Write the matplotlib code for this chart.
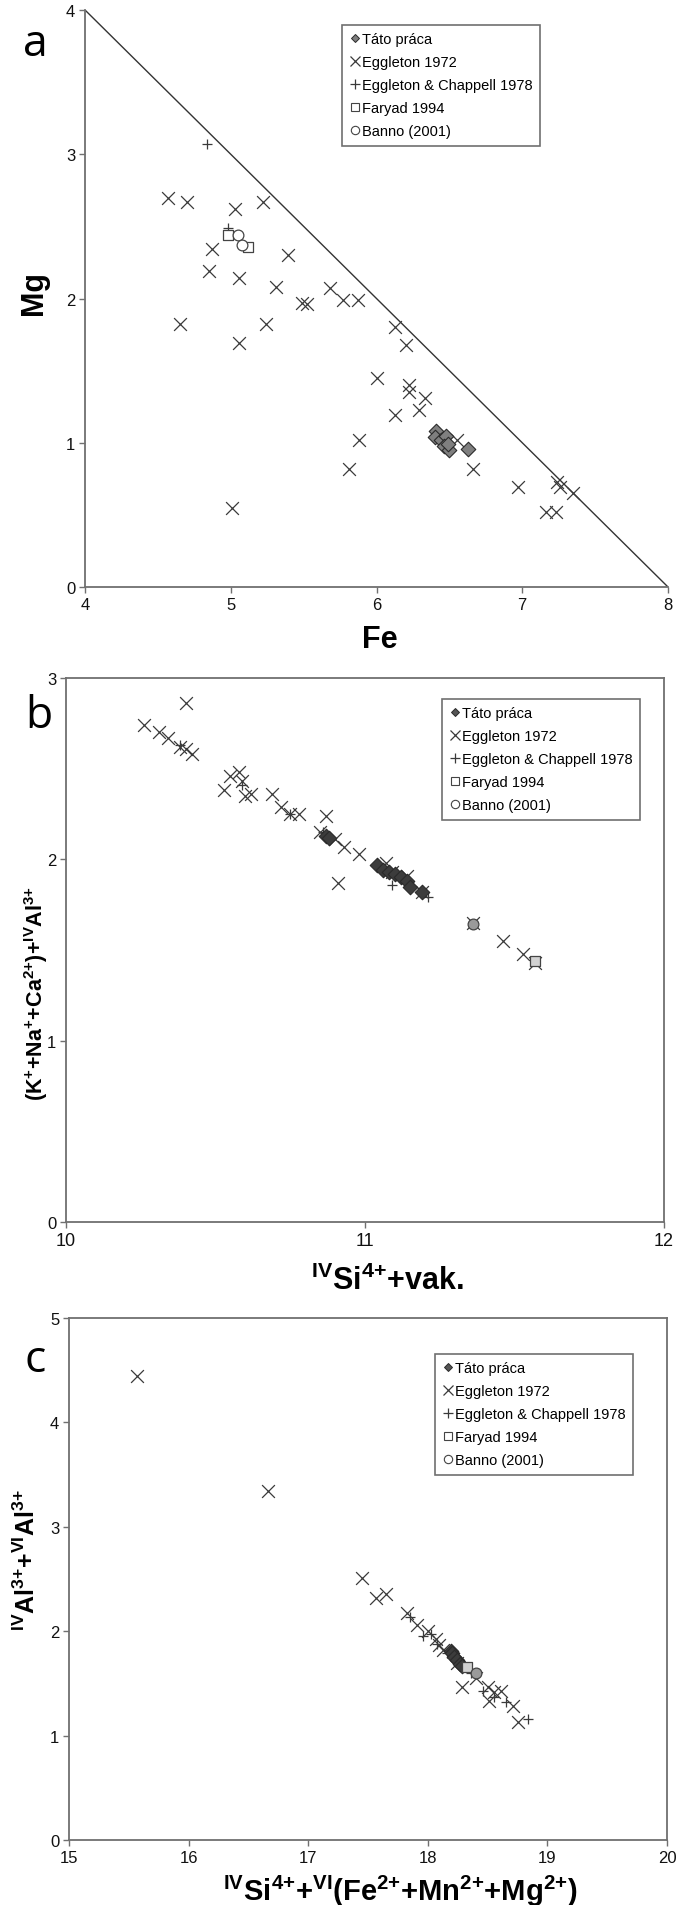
import matplotlib.pyplot as plt
from matplotlib.lines import Line2D

plt.rcParams['font.family'] = ['Liberation Sans', 'DejaVu Sans']
plt.rcParams['mathtext.fontset'] = 'custom'
for k in ('rm', 'it', 'bf', 'sf'):
    plt.rcParams['mathtext.' + k] = 'Liberation Sans:bold'

W, H = 686, 1906

series_names = ['Táto práca', 'Eggleton 1972', 'Eggleton & Chappell 1978',
                'Faryad 1994', 'Banno (2001)']

# ---- panel a : Fe vs Mg
a_egg72_x = [4.57, 4.70, 5.03, 5.22, 4.87, 4.85, 5.06, 5.39, 5.31, 5.68, 5.49, 5.52,
             5.77, 5.87, 4.65, 5.24, 5.06, 6.13, 6.20, 6.00, 6.22, 6.22, 6.33, 6.29,
             6.13, 5.88, 5.81, 6.66, 5.01, 6.97, 7.24, 7.26, 7.35, 7.16, 7.23, 6.55]
a_egg72_y = [2.70, 2.67, 2.62, 2.67, 2.34, 2.19, 2.14, 2.30, 2.08, 2.07, 1.97, 1.96,
             1.99, 1.99, 1.82, 1.82, 1.69, 1.80, 1.68, 1.45, 1.40, 1.35, 1.31, 1.23,
             1.19, 1.02, 0.82, 0.82, 0.55, 0.69, 0.73, 0.69, 0.65, 0.52, 0.52, 1.02]
a_ec78_x = [4.84, 4.98]
a_ec78_y = [3.07, 2.49]
a_faryad_x = [4.98, 5.12]
a_faryad_y = [2.44, 2.36]
a_banno_x = [5.05, 5.08]
a_banno_y = [2.44, 2.37]
a_tato_x = [6.41, 6.40, 6.44, 6.48, 6.46, 6.50, 6.49, 6.63]
a_tato_y = [1.08, 1.04, 1.02, 1.05, 0.98, 0.95, 0.99, 0.96]
a_limit_x = [4, 8]
a_limit_y = [4, 0]

# ---- panel b : IVSi + vac. vs (K+Na+Ca)+IVAl
b_egg72_x = [10.26, 10.40, 10.31, 10.34, 10.38, 10.40, 10.42, 10.53, 10.55, 10.58,
             10.59, 10.60, 10.62, 10.69, 10.72, 10.75, 10.78, 10.87, 10.85, 10.90,
             10.93, 10.98, 10.91, 11.46, 11.53, 11.57, 11.07, 11.09, 11.14, 11.19, 11.36]
b_egg72_y = [2.74, 2.86, 2.70, 2.67, 2.62, 2.61, 2.58, 2.38, 2.46, 2.48,
             2.43, 2.35, 2.36, 2.36, 2.29, 2.25, 2.25, 2.24, 2.15, 2.11,
             2.07, 2.03, 1.87, 1.55, 1.48, 1.43, 1.98, 1.93, 1.91, 1.82, 1.65]
b_ec78_x = [10.86, 11.21, 10.75, 10.59, 11.09, 11.13, 10.38]
b_ec78_y = [2.15, 1.79, 2.25, 2.41, 1.86, 1.88, 2.63]
b_faryad_x = [11.57]
b_faryad_y = [1.44]
b_banno_x = [11.36]
b_banno_y = [1.645]
b_tato_x = [10.87, 10.88, 11.04, 11.06, 11.08, 11.10, 11.12, 11.14, 11.15, 11.19]
b_tato_y = [2.13, 2.12, 1.97, 1.94, 1.93, 1.92, 1.90, 1.88, 1.85, 1.82]

# ---- panel c : IVSi + VI(Fe+Mn+Mg) vs IVAl + VIAl
c_egg72_x = [15.57, 16.66, 17.45, 17.57, 17.65, 17.83, 17.91, 18.00, 18.07, 18.09,
             18.29, 18.51, 18.50, 18.61, 18.71, 18.75, 18.24, 18.13, 18.40, 18.55]
c_egg72_y = [4.44, 3.34, 2.51, 2.32, 2.36, 2.17, 2.06, 2.00, 1.93, 1.87,
             1.47, 1.33, 1.47, 1.43, 1.28, 1.13, 1.70, 1.82, 1.55, 1.42]
c_ec78_x = [18.84, 17.85, 17.96, 18.03, 18.46, 18.55, 18.16, 18.08, 18.36, 18.65]
c_ec78_y = [1.16, 2.14, 1.95, 1.97, 1.43, 1.37, 1.79, 1.88, 1.60, 1.32]
c_faryad_x = [18.33]
c_faryad_y = [1.66]
c_banno_x = [18.40]
c_banno_y = [1.60]
c_tato_x = [18.19, 18.20, 18.22, 18.245, 18.27, 18.29]
c_tato_y = [1.81, 1.79, 1.75, 1.72, 1.69, 1.67]

GRAY = '#707070'
MK = '#3a3a3a'


def axes_px(left, top, right, bottom):
    return fig.add_axes([left / W, 1 - bottom / H, (right - left) / W, (bottom - top) / H])


def style(ax, box=True):
    for s in ax.spines.values():
        s.set_color(GRAY)
        s.set_linewidth(1.3)
    if not box:
        ax.spines['top'].set_visible(False)
        ax.spines['right'].set_visible(False)
    ax.tick_params(direction='out', length=4, width=1, color=GRAY,
                   labelsize=12, labelcolor='#111111', pad=3)


def draw(ax, egg72, ec78, faryad, banno, tato, tato_fc, sq_fc, ci_fc):
    ax.scatter(*egg72, marker='x', s=85, c=MK, linewidths=0.9, clip_on=False, zorder=3)
    ax.scatter(*ec78, marker='+', s=60, c=MK, linewidths=0.9, clip_on=False, zorder=3)
    ax.scatter(*tato, marker='D', s=55, c=tato_fc, edgecolors='#2a2a2a',
               linewidths=0.8, zorder=4)
    ax.scatter(*faryad, marker='s', s=60, c=sq_fc, edgecolors='#444444',
               linewidths=0.9, zorder=5)
    ax.scatter(*banno, marker='o', s=60, c=ci_fc, edgecolors='#444444',
               linewidths=0.9, zorder=5)


def legend(ax, right, top, tato_fc):
    handles = [
        Line2D([], [], ls='', marker='D', ms=4.5, mfc=tato_fc, mec='#2a2a2a', mew=0.7),
        Line2D([], [], ls='', marker='x', ms=7, mec=MK, mew=0.9),
        Line2D([], [], ls='', marker='+', ms=7, mec=MK, mew=0.9),
        Line2D([], [], ls='', marker='s', ms=6, mfc='white', mec='#444444', mew=0.8),
        Line2D([], [], ls='', marker='o', ms=6, mfc='white', mec='#444444', mew=0.8),
    ]
    leg = ax.legend(handles, series_names, loc='upper right',
                    bbox_to_anchor=(right / W, 1 - top / H), bbox_transform=fig.transFigure,
                    borderaxespad=0, fontsize=10.5, frameon=True, fancybox=False,
                    handlelength=0.7, handletextpad=0.15, labelspacing=0.62,
                    borderpad=0.5, framealpha=1)
    leg.get_frame().set_edgecolor(GRAY)
    leg.get_frame().set_linewidth(1.2)


fig = plt.figure(figsize=(W / 100, H / 100), dpi=100)

# panel a
ax = axes_px(85, 11, 668, 588)
style(ax, box=False)
ax.plot(a_limit_x, a_limit_y, color='#333333', lw=1.0, zorder=2)
draw(ax, (a_egg72_x, a_egg72_y), (a_ec78_x, a_ec78_y), (a_faryad_x, a_faryad_y),
     (a_banno_x, a_banno_y), (a_tato_x, a_tato_y), '#7f7f7f', 'white', 'white')
ax.set_xlim(4, 8)
ax.set_ylim(0, 4)
ax.set_xticks([4, 5, 6, 7, 8])
ax.set_yticks([0, 1, 2, 3, 4])
legend(ax, 540, 26, '#7f7f7f')
fig.text(35 / W, 1 - 45 / H, 'a', fontsize=32, family='Open Sans', ha='center', va='center')
fig.text(34 / W, 1 - 293 / H, 'Mg', fontsize=22, fontweight='bold', rotation=90,
         ha='center', va='center')
fig.text(380 / W, 1 - 640 / H, 'Fe', fontsize=22, fontweight='bold', ha='center', va='center')

# panel b
ax = axes_px(66, 679, 664, 1223)
style(ax)
draw(ax, (b_egg72_x, b_egg72_y), (b_ec78_x, b_ec78_y), (b_faryad_x, b_faryad_y),
     (b_banno_x, b_banno_y), (b_tato_x, b_tato_y), '#3c3c3c', '#d2d2d2', '#9a9a9a')
ax.set_xlim(10, 12)
ax.set_ylim(0, 3)
ax.set_xticks([10, 11, 12])
ax.set_yticks([0, 1, 2, 3])
ax.tick_params(axis='x', labelsize=13)
legend(ax, 640, 700, '#555555')
fig.text(39 / W, 1 - 717 / H, 'b', fontsize=32, family='Open Sans', ha='center', va='center')
fig.text(36 / W, 1 - 994 / H, '(K$^{{+}}$+Na$^{{+}}$+Ca$^{2{+}}$)+$^{IV}$Al$^{3{+}}$',
         fontsize=15.5, fontweight='bold', rotation=90, ha='center', va='center')
fig.text(387 / W, 1 - 1281 / H, '$^{IV}$Si$^{4{+}}$+vak.', fontsize=22, fontweight='bold',
         ha='center', va='center')

# panel c
ax = axes_px(69, 1319, 667, 1841)
style(ax)
draw(ax, (c_egg72_x, c_egg72_y), (c_ec78_x, c_ec78_y), (c_faryad_x, c_faryad_y),
     (c_banno_x, c_banno_y), (c_tato_x, c_tato_y), '#3c3c3c', '#d2d2d2', '#9a9a9a')
ax.set_xlim(15, 20)
ax.set_ylim(0, 5)
ax.set_xticks([15, 16, 17, 18, 19, 20])
ax.set_yticks([0, 1, 2, 3, 4, 5])
legend(ax, 633, 1355, '#555555')
fig.text(35 / W, 1 - 1361 / H, 'c', fontsize=32, family='Open Sans', ha='center', va='center')
fig.text(27 / W, 1 - 1560 / H, '$^{IV}$Al$^{3{+}}$+$^{VI}$Al$^{3{+}}$', fontsize=18,
         fontweight='bold', rotation=90, ha='center', va='center')
fig.text(400 / W, 1 - 1891 / H,
         '$^{IV}$Si$^{4{+}}$+$^{VI}$(Fe$^{2{+}}$+Mn$^{2{+}}$+Mg$^{2{+}}$)',
         fontsize=21, fontweight='bold', ha='center', va='center')

fig.savefig('out.png', dpi=100)
